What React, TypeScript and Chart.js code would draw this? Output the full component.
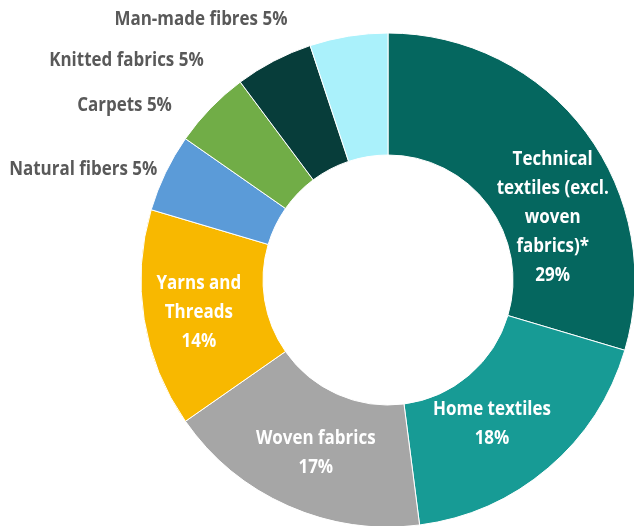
import React, { useEffect, useRef } from "react";
import { Chart, registerables } from "chart.js";

Chart.register(...registerables);

const categories = [
  "Technical textiles (excl. woven fabrics)*",
  "Home textiles",
  "Woven fabrics",
  "Yarns and Threads",
  "Natural fibers",
  "Carpets",
  "Knitted fabrics",
  "Man-made fibres",
];
const values = [29, 18, 17, 14, 5, 5, 5, 5];
const labelLines = [
  ["Technical", "textiles (excl.", "woven", "fabrics)*"],
  ["Home textiles"],
  ["Woven fabrics"],
  ["Yarns and", "Threads"],
  ["Natural fibers"],
  ["Carpets"],
  ["Knitted fabrics"],
  ["Man-made fibres"],
];
const colors = [
  "#05675f",
  "#179b95",
  "#a6a6a6",
  "#f8b800",
  "#5b9bd8",
  "#71ad47",
  "#073d3a",
  "#aaf1fb",
];
// label placement: inside (white, centered) or outside (grey, right-aligned)
const labelInside = [true, true, true, true, false, false, false, false];
const labelAngleFrac = [0.65, 0.57, 0.48, 0.49, 0.49, 0.22, -0.18, -0.15];
const labelRadiusFactor = [0.713, 0.72, 0.76, 0.777, 1.035, 1.125, 1.16, 1.13];

const FONT = '"Open Sans", "Noto Sans", sans-serif';
const CONDENSE = 0.87;

const labelPlugin = {
  id: "sliceLabels",
  afterDatasetsDraw(chart: any) {
    const ctx = chart.ctx as CanvasRenderingContext2D;
    const meta = chart.getDatasetMeta(0);
    ctx.save();
    ctx.font = `bold 19.5px ${FONT}`;
    ctx.textBaseline = "middle";
    meta.data.forEach((arc: any, i: number) => {
      const { x, y, startAngle, endAngle, outerRadius } = arc.getProps(
        ["x", "y", "startAngle", "endAngle", "outerRadius"],
        true
      );
      const a = startAngle + (endAngle - startAngle) * labelAngleFrac[i];
      const r = outerRadius * labelRadiusFactor[i];
      const px = x + Math.cos(a) * r;
      const py = y + Math.sin(a) * r;
      const pct = `${values[i]}%`;
      ctx.save();
      ctx.translate(px, py);
      ctx.scale(CONDENSE, 1);
      if (labelInside[i]) {
        const lines = [...labelLines[i], pct];
        const lh = 29;
        ctx.fillStyle = "#ffffff";
        ctx.textAlign = "center";
        const top = -((lines.length - 1) * lh) / 2;
        lines.forEach((t, k) => ctx.fillText(t, 0, top + k * lh));
      } else {
        ctx.fillStyle = "#595959";
        ctx.textAlign = "right";
        ctx.fillText(`${labelLines[i].join(" ")} ${pct}`, 0, 0);
      }
      ctx.restore();
    });
    ctx.restore();
  },
};

export default function App() {
  const ref = useRef<HTMLCanvasElement>(null);
  useEffect(() => {
    const chart = new Chart(ref.current!, {
      type: "doughnut",
      data: {
        labels: categories,
        datasets: [
          {
            data: values,
            backgroundColor: colors,
            borderColor: "#ffffff",
            borderWidth: 1,
            radius: 247,
            clip: false,
          } as any,
        ],
      },
      options: {
        responsive: false,
        animation: false,
        cutout: "50.6%",
        layout: { padding: { left: 142, top: 34, right: 0, bottom: 0 } },
        plugins: {
          legend: { display: false },
          tooltip: { enabled: false },
        },
      },
      plugins: [labelPlugin],
    });
    return () => chart.destroy();
  }, []);
  return (
    <div
      style={{
        position: "fixed",
        left: 0,
        top: 0,
        width: 634,
        height: 526,
        overflow: "hidden",
        background: "#fff",
      }}
    >
      <canvas ref={ref} width={634} height={526} />
    </div>
  );
}
